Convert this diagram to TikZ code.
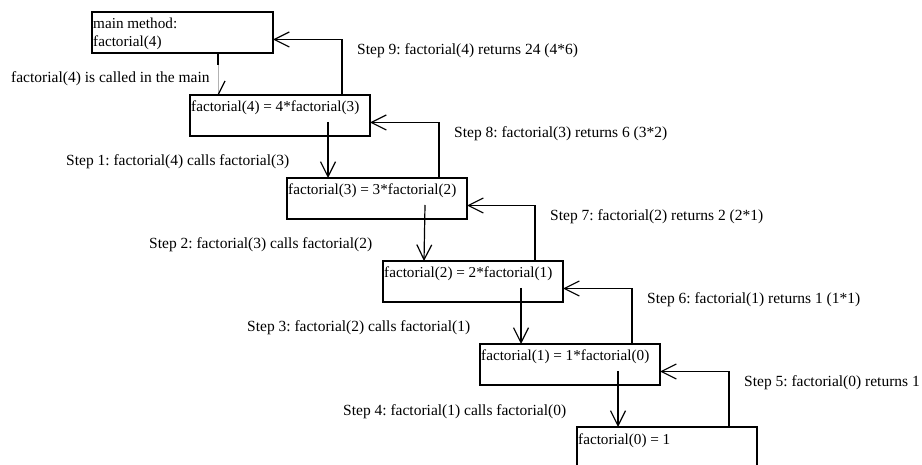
\documentclass[tikz,border=0pt]{standalone}
\usepackage{fontspec}
\setmainfont{Liberation Serif}
\usetikzlibrary{arrows.meta}
\begin{document}
\frenchspacing
\begin{tikzpicture}[x=1pt,y=-1pt,
  box/.style={draw,line width=1.3pt,minimum width=#1,minimum height=41pt,anchor=north west,inner sep=0pt,outer sep=0pt},
  lbl/.style={anchor=base west,inner sep=0pt,font=\fontsize{15.5}{18}\selectfont},
  btxt/.style={anchor=base west,inner sep=0pt,font=\fontsize{15.2}{18}\selectfont},
  arr/.style={line width=1.2pt,-{Straight Barb[length=15pt,width=15pt,line width=1.2pt]}}]
\useasboundingbox (0,0) rectangle (922,465);
\clip (0,0) rectangle (922,465);
% boxes
\node[box=181] (main) at (92,12) {};
\node[box=180] (b4) at (190,95) {};
\node[box=180] (b3) at (287,178) {};
\node[box=180] (b2) at (383,261) {};
\node[box=180] (b1) at (480,344) {};
\node[box=180] (b0) at (577,427) {};
% box texts
\node[btxt] (tm1) at (93,29) {main method:};
\node[btxt] (tm2) at (93,47) {factorial(4)};
\node[btxt] (t4) at (191,112) {factorial(4) = 4*factorial(3)};
\node[btxt] (t3) at (288,195) {factorial(3) = 3*factorial(2)};
\node[btxt] (t2) at (384,278) {factorial(2) = 2*factorial(1)};
\node[btxt] (t1) at (481,361) {factorial(1) = 1*factorial(0)};
\node[btxt] (t0) at (578,444) {factorial(0) = 1};
% call from main
\draw[line width=1.2pt] ([xshift=126pt]main.south west) coordinate (m1) -- ++(0,12) coordinate (m2);
\draw[gray!60,line width=0.6pt] (m2) -- (m2 |- b4.north) coordinate (m3);
\draw[line width=1.2pt] (m3) -- ++(7,-14);
% calls
\draw[arr] ([shift={(138,-14)}]b4.south west) -- ([xshift=41pt]b3.north west);
\draw[arr] ([shift={(138,-14)}]b3.south west) -- ([xshift=41pt]b2.north west);
\draw[arr] ([shift={(138,-14)}]b2.south west) -- ([xshift=41pt]b1.north west);
\draw[arr] ([shift={(138,-14)}]b1.south west) -- ([xshift=41pt]b0.north west);
% returns
\draw[arr] ([xshift=152pt]b4.north west) |- ([yshift=-7pt]main.east);
\draw[arr] ([xshift=152pt]b3.north west) |- ([yshift=-7pt]b4.east);
\draw[arr] ([xshift=152pt]b2.north west) |- ([yshift=-7pt]b3.east);
\draw[arr] ([xshift=152pt]b1.north west) |- ([yshift=-7pt]b2.east);
\draw[arr] ([xshift=152pt]b0.north west) |- ([yshift=-7pt]b1.east);
% labels
\node[lbl] (l0) at (11,83) {factorial(4) is called in the main};
\node[lbl] (s9) at (357,55) {Step 9: factorial(4) returns 24 (4*6)};
\node[lbl] (s8) at (454,138) {Step 8: factorial(3) returns 6 (3*2)};
\node[lbl] (s7) at (550,221) {Step 7: factorial(2) returns 2 (2*1)};
\node[lbl] (s6) at (647,304) {Step 6: factorial(1) returns 1 (1*1)};
\node[lbl] (s5) at (744,387) {Step 5: factorial(0) returns 1};
\node[lbl] (s1) at (66,166) {Step 1: factorial(4) calls factorial(3)};
\node[lbl] (s2) at (149,249) {Step 2: factorial(3) calls factorial(2)};
\node[lbl] (s3) at (247,332) {Step 3: factorial(2) calls factorial(1)};
\node[lbl] (s4) at (343,415) {Step 4: factorial(1) calls factorial(0)};
\end{tikzpicture}
\end{document}
